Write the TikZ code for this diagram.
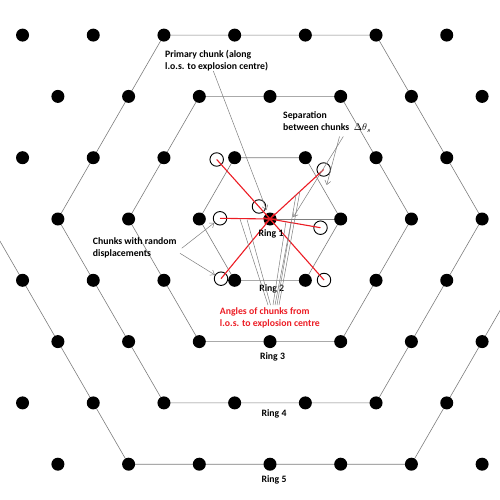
\documentclass[tikz,border=0pt]{standalone}
\usepackage{fontspec}
\setmainfont{Carlito}
\usepackage{xcolor}
\definecolor{latgray}{RGB}{125,125,125}
\definecolor{losred}{RGB}{236,28,36}
\usetikzlibrary{arrows.meta,backgrounds}

\begin{document}
\begin{tikzpicture}[x=1pt,y=-1pt,
    dot/.style={circle,fill=black,inner sep=0pt,minimum size=13pt},
    chunk/.style={circle,draw=black,fill=white,line width=0.9pt,inner sep=0pt,minimum size=13.5pt},
    hexline/.style={draw=latgray,line width=0.6pt},
    losline/.style={draw=losred,line width=1.1pt,shorten >=-7pt},
    pointer/.style={draw=latgray,line width=0.5pt,-{Straight Barb[length=4pt,width=6pt]}},
    fanline/.style={draw=latgray,line width=0.5pt},
    lbl/.style={font=\fontsize{9.75}{12}\selectfont\bfseries,inner sep=0pt,align=left}]
  \useasboundingbox (0,0) rectangle (500,500);
  \clip (0,0) rectangle (500,500);

  %% lattice of dots (rows r, half-steps i)
  \foreach \r in {2,0,-2,-4}
    \foreach \i in {-6,-4,...,6}
      \node[dot] (d\i_\r) at ({270+35.35*\i},{219-61.3*\r}) {};
  \foreach \r in {3,1,-1,-3}
    \foreach \i in {-7,-5,...,5}
      \node[dot] (d\i_\r) at ({270+35.35*\i},{219-61.3*\r}) {};

  %% hexagonal rings
  \begin{pgfonlayer}{background}
    \draw[hexline] (d2_0.center) -- (d1_1.center) -- (d-1_1.center) -- (d-2_0.center)
      -- (d-1_-1.center) -- (d1_-1.center) -- (d2_0.center);
    \draw[hexline] (d0_0.center) -- (d2_0.center);
    \draw[hexline] (d4_0.center) -- (d2_2.center) -- (d-2_2.center) -- (d-4_0.center)
      -- (d-2_-2.center) -- (d2_-2.center) -- (d4_0.center);
    \draw[hexline] (d6_0.center) -- (d3_3.center) -- (d-3_3.center) -- (d-6_0.center)
      -- (d-3_-3.center) -- (d3_-3.center) -- (d6_0.center);
    \coordinate (hexW) at (-12.8,219);
    \coordinate (hexE) at (552.8,219);
    \draw[hexline] (hexW) -- (d-4_-4.center) -- (d4_-4.center) -- (hexE);
  \end{pgfonlayer}

  %% displaced chunks
  \node[chunk] (c1) at (216.7,159.5) {};
  \node[chunk] (c2) at (323.7,169.5) {};
  \node[chunk] (c3) at (259,206.5) {};
  \node[chunk] (c4) at (220,218.3) {};
  \node[chunk] (c5) at (320.5,227.7) {};
  \node[chunk] (c6) at (221,278.7) {};
  \node[chunk] (c7) at (324,280) {};

  %% lines of sight to the centre
  \foreach \c in {c1,c2,c4,c5,c6,c7}
    \draw[losline] (\c.center) -- (d0_0.center);

  %% labels
  \node[lbl,anchor=west] (primary) at (165,61) {Primary chunk (along\\l.o.s. to explosion centre)};
  \node[lbl,anchor=west] (sep) at (283,122) {Separation\\between chunks~~$\Delta\theta_s$};
  \node[lbl,anchor=west] (random) at (92.7,248) {Chunks with random\\displacements};
  \node[lbl,anchor=west,text=losred] (angles) at (219.7,317.5) {Angles of chunks from\\l.o.s. to explosion centre};
  \node[lbl] (ring1) at (271,233.5) {Ring 1};
  \node[lbl] (ring2) at (271.7,288.7) {Ring 2};
  \node[lbl] (ring3) at (272.5,357.3) {Ring 3};
  \node[lbl] (ring4) at (274,414.3) {Ring 4};
  \node[lbl] (ring5) at (274,480) {Ring 5};

  %% pointers
  \coordinate (pFrom) at (213.3,71);
  \draw[pointer,shorten >=3pt] (pFrom) -- (d0_0);
  \coordinate (sFromA) at (339.5,136.5);
  \coordinate (sFromB) at (343.3,136.5);
  \coordinate (sToA) at (326.7,185);
  \coordinate (sToB) at (293.3,217);
  \draw[pointer] (sFromA) -- (sToA);
  \draw[pointer] (sFromB) -- (sToB);
  \coordinate (rFromA) at (181.7,248.3);
  \coordinate (rFromB) at (180,253.3);
  \draw[pointer] (rFromA) -- (c4);
  \draw[pointer] (rFromB) -- (c6);

  %% fan from the angles label
  \coordinate (aF1) at (268,305);
  \coordinate (aF2) at (270.5,305);
  \coordinate (aF3) at (273,305);
  \coordinate (aF4) at (275,305);
  \coordinate (aF5) at (277,305);
  \coordinate (aF6) at (279,305);
  \coordinate (aT1) at (240,219);
  \coordinate (aT2) at (247,219.5);
  \coordinate (aT3) at (286,221.5);
  \coordinate (aT4) at (291,222.5);
  \coordinate (aT5) at (296,195);
  \coordinate (aT6) at (300,191);
  \foreach \k in {1,...,6}
    \draw[fanline] (aF\k) -- (aT\k);
\end{tikzpicture}
\end{document}
